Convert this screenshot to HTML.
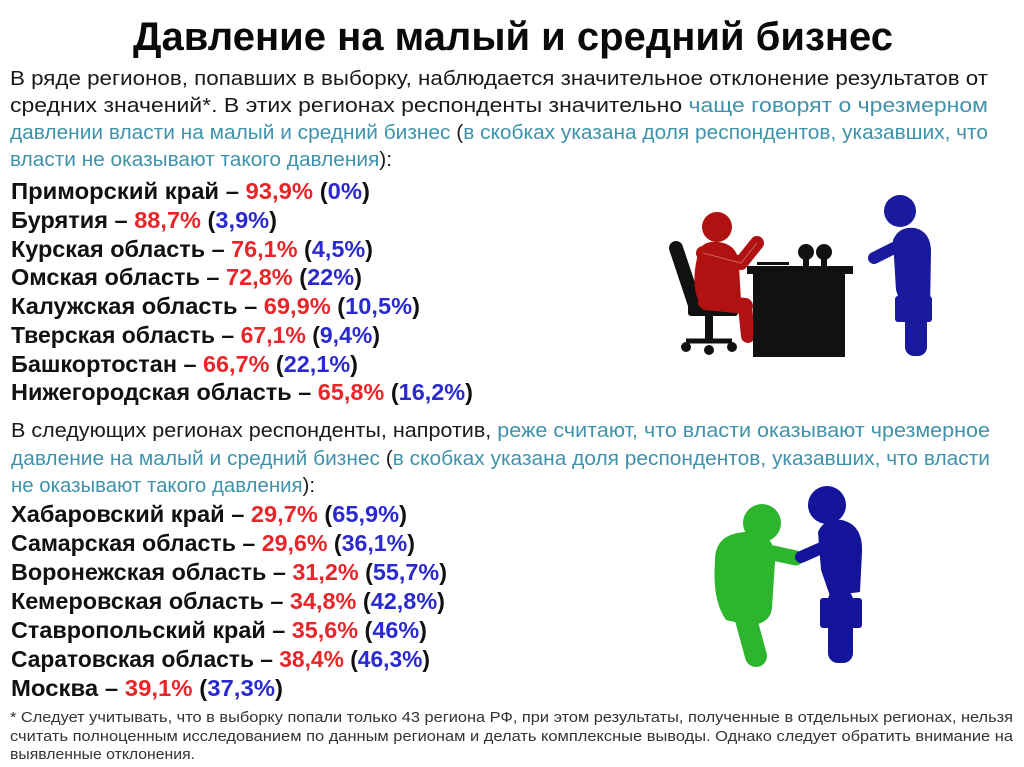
<!DOCTYPE html>
<html><head><meta charset="utf-8">
<style>
html,body{margin:0;padding:0;background:#fff;}
body{width:1024px;height:767px;overflow:hidden;}
svg{display:block;}
text{font-family:"Liberation Sans",sans-serif;}
.p{font-size:20px;fill:#1a1a1a;}
.t{fill:#3f92ab;}
.l{font-size:23px;font-weight:bold;fill:#111;}
.r{fill:#e8262a;}
.b{fill:#2a2ad0;}
.f{font-size:14.5px;fill:#333;}
</style></head>
<body>
<svg width="1024" height="767" viewBox="0 0 1024 767" xmlns="http://www.w3.org/2000/svg">
<rect width="1024" height="767" fill="#fff"/>

<!-- Title -->
<text x="133" y="50" font-size="40" font-weight="bold" fill="#0a0a0a" textLength="760" lengthAdjust="spacingAndGlyphs">Давление на малый и средний бизнес</text>

<!-- Paragraph 1 -->
<text class="p" x="10" y="85" textLength="978" lengthAdjust="spacingAndGlyphs">В ряде регионов, попавших в выборку, наблюдается значительное отклонение результатов от</text>
<text class="p" x="10" y="112" textLength="978" lengthAdjust="spacingAndGlyphs">средних значений*. В этих регионах респонденты значительно <tspan class="t">чаще говорят о чрезмерном</tspan></text>
<text class="p" x="10" y="139" textLength="978" lengthAdjust="spacingAndGlyphs"><tspan class="t">давлении власти на малый и средний бизнес </tspan>(<tspan class="t">в скобках указана доля респондентов, указавших, что</tspan></text>
<text class="p" x="10" y="166" textLength="382" lengthAdjust="spacingAndGlyphs"><tspan class="t">власти не оказывают такого давления</tspan>):</text>

<!-- List 1 -->
<text class="l" x="11" y="199" textLength="359" lengthAdjust="spacingAndGlyphs">Приморский край – <tspan class="r">93,9%</tspan> (<tspan class="b">0%</tspan>)</text>
<text class="l" x="11" y="228" textLength="266" lengthAdjust="spacingAndGlyphs">Бурятия – <tspan class="r">88,7%</tspan> (<tspan class="b">3,9%</tspan>)</text>
<text class="l" x="11" y="257" textLength="362" lengthAdjust="spacingAndGlyphs">Курская область – <tspan class="r">76,1%</tspan> (<tspan class="b">4,5%</tspan>)</text>
<text class="l" x="11" y="285" textLength="351" lengthAdjust="spacingAndGlyphs">Омская область – <tspan class="r">72,8%</tspan> (<tspan class="b">22%</tspan>)</text>
<text class="l" x="11" y="314" textLength="409" lengthAdjust="spacingAndGlyphs">Калужская область – <tspan class="r">69,9%</tspan> (<tspan class="b">10,5%</tspan>)</text>
<text class="l" x="11" y="343" textLength="369" lengthAdjust="spacingAndGlyphs">Тверская область – <tspan class="r">67,1%</tspan> (<tspan class="b">9,4%</tspan>)</text>
<text class="l" x="11" y="372" textLength="347" lengthAdjust="spacingAndGlyphs">Башкортостан – <tspan class="r">66,7%</tspan> (<tspan class="b">22,1%</tspan>)</text>
<text class="l" x="11" y="400" textLength="462" lengthAdjust="spacingAndGlyphs">Нижегородская область – <tspan class="r">65,8%</tspan> (<tspan class="b">16,2%</tspan>)</text>

<!-- Paragraph 2 -->
<text class="p" x="11" y="437" textLength="979" lengthAdjust="spacingAndGlyphs">В следующих регионах респонденты, напротив, <tspan class="t">реже считают, что власти оказывают чрезмерное</tspan></text>
<text class="p" x="11" y="465" textLength="979" lengthAdjust="spacingAndGlyphs"><tspan class="t">давление на малый и средний бизнес </tspan>(<tspan class="t">в скобках указана доля респондентов, указавших, что власти</tspan></text>
<text class="p" x="11" y="492" textLength="304" lengthAdjust="spacingAndGlyphs"><tspan class="t">не оказывают такого давления</tspan>):</text>

<!-- List 2 -->
<text class="l" x="11" y="522" textLength="396" lengthAdjust="spacingAndGlyphs">Хабаровский край – <tspan class="r">29,7%</tspan> (<tspan class="b">65,9%</tspan>)</text>
<text class="l" x="11" y="551" textLength="404" lengthAdjust="spacingAndGlyphs">Самарская область – <tspan class="r">29,6%</tspan> (<tspan class="b">36,1%</tspan>)</text>
<text class="l" x="11" y="580" textLength="436" lengthAdjust="spacingAndGlyphs">Воронежская область – <tspan class="r">31,2%</tspan> (<tspan class="b">55,7%</tspan>)</text>
<text class="l" x="11" y="609" textLength="434" lengthAdjust="spacingAndGlyphs">Кемеровская область – <tspan class="r">34,8%</tspan> (<tspan class="b">42,8%</tspan>)</text>
<text class="l" x="11" y="638" textLength="416" lengthAdjust="spacingAndGlyphs">Ставропольский край – <tspan class="r">35,6%</tspan> (<tspan class="b">46%</tspan>)</text>
<text class="l" x="11" y="667" textLength="419" lengthAdjust="spacingAndGlyphs">Саратовская область – <tspan class="r">38,4%</tspan> (<tspan class="b">46,3%</tspan>)</text>
<text class="l" x="11" y="696" textLength="272" lengthAdjust="spacingAndGlyphs">Москва – <tspan class="r">39,1%</tspan> (<tspan class="b">37,3%</tspan>)</text>

<!-- Footnote -->
<text class="f" x="10" y="722" textLength="1003" lengthAdjust="spacingAndGlyphs">* Следует учитывать, что в выборку попали только 43 региона РФ, при этом результаты, полученные в отдельных регионах, нельзя</text>
<text class="f" x="10" y="741" textLength="1003" lengthAdjust="spacingAndGlyphs">считать полноценным исследованием по данным регионам и делать комплексные выводы. Однако следует обратить внимание на</text>
<text class="f" x="10" y="759" textLength="185" lengthAdjust="spacingAndGlyphs">выявленные отклонения.</text>

<!-- Top illustration: chair -->
<g fill="#111" stroke="#111">
  <line x1="676" y1="248" x2="695" y2="305" stroke-width="14" stroke-linecap="round"/>
  <rect x="688" y="303" width="50" height="13" rx="3" stroke="none"/>
  <rect x="705" y="314" width="8" height="26" stroke="none"/>
  <line x1="686" y1="341" x2="732" y2="341" stroke-width="5"/>
  <circle cx="686" cy="347" r="5" stroke="none"/>
  <circle cx="709" cy="350" r="5" stroke="none"/>
  <circle cx="732" cy="347" r="5" stroke="none"/>
</g>
<!-- Red person -->
<g fill="#b01212" stroke="#b01212">
  <circle cx="717" cy="227" r="15" stroke="none"/>
  <path d="M697,258 Q699,240 718,242 Q738,244 739,265 L741,302 L702,307 Q690,290 697,258 Z" stroke="none"/>
  <polyline points="703,253 741,263 757,243" fill="none" stroke-width="14" stroke-linecap="round" stroke-linejoin="round"/>
  <line x1="706" y1="302" x2="745" y2="306" stroke-width="16" stroke-linecap="round"/>
  <line x1="745" y1="306" x2="748" y2="336" stroke-width="14" stroke-linecap="round"/>
</g>
<polyline points="703,253 741,263 757,243" fill="none" stroke="#e8b0b0" stroke-width="1" opacity="0.5"/>
<!-- Desk -->
<g fill="#111">
  <rect x="747" y="266" width="106" height="8"/>
  <rect x="753" y="272" width="92" height="85"/>
  <rect x="757" y="262" width="32" height="3"/>
  <circle cx="806" cy="252" r="8"/>
  <circle cx="824" cy="252" r="8"/>
  <rect x="803" y="258" width="6" height="9"/>
  <rect x="821" y="258" width="6" height="9"/>
</g>
<!-- Blue person top -->
<g fill="#1a1a9c" stroke="#1a1a9c">
  <circle cx="900" cy="211" r="16" stroke="none"/>
  <path d="M893,240 Q899,226 915,228 Q931,232 931,252 L930,312 L904,314 L896,290 Z" stroke="none"/>
  <line x1="898" y1="246" x2="874" y2="258" stroke-width="12" stroke-linecap="round"/>
  <rect x="905" y="300" width="22" height="56" rx="9" stroke="none"/>
  <rect x="895" y="296" width="37" height="26" rx="3" stroke="none"/>
  <rect x="907" y="291" width="12" height="6" stroke="none"/>
</g>

<!-- Bottom illustration: green person -->
<g fill="#2db52d" stroke="#2db52d">
  <circle cx="762" cy="523" r="19" stroke="none"/>
  <path d="M715,562 Q714,534 745,532 Q776,530 775,562 L772,608 Q770,625 748,625 L726,620 Q712,600 715,562 Z" stroke="none"/>
  <line x1="740" y1="546" x2="796" y2="558" stroke-width="15" stroke-linecap="round"/>
  <line x1="744" y1="612" x2="756" y2="656" stroke-width="22" stroke-linecap="round"/>
</g>
<!-- Blue person bottom -->
<g fill="#14149a" stroke="#14149a">
  <circle cx="827" cy="505" r="19" stroke="none"/>
  <path d="M818,532 Q824,518 842,520 Q863,525 862,552 L860,592 L830,596 L821,570 Z" stroke="none"/>
  <line x1="826" y1="546" x2="801" y2="557" stroke-width="12" stroke-linecap="round"/>
  <rect x="828" y="590" width="25" height="73" rx="10" stroke="none"/>
  <rect x="820" y="598" width="42" height="30" rx="3" stroke="none"/>
  <rect x="834" y="593" width="14" height="6" stroke="none"/>
</g>
</svg>
</body></html>
